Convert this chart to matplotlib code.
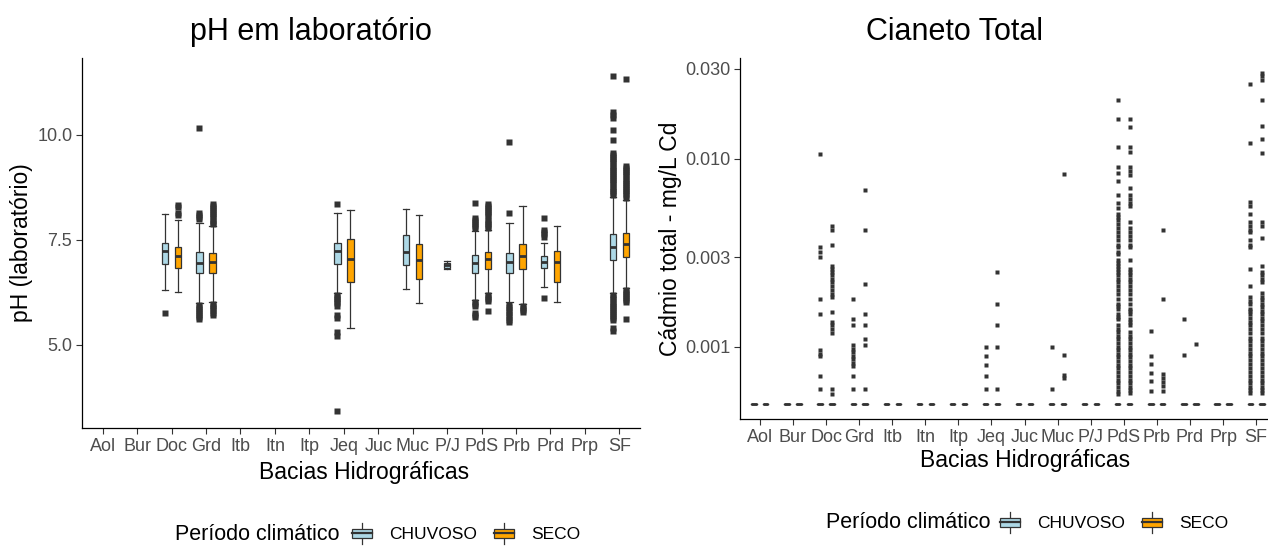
import matplotlib
matplotlib.use("Agg")
import matplotlib.pyplot as plt
from matplotlib.legend_handler import HandlerBase
from matplotlib.patches import Rectangle, Patch
from matplotlib.lines import Line2D

plt.rcParams['font.family'] = ['Liberation Sans', 'DejaVu Sans']

# ---- dados -------------------------------------------------------------
bacias = ["Aol", "Bur", "Doc", "Grd", "Itb", "Itn", "Itp", "Jeq", "Juc",
          "Muc", "P/J", "PdS", "Prb", "Prd", "Prp", "SF"]
periodos = ["CHUVOSO", "SECO"]
cores = {"CHUVOSO": "#ADD8E6", "SECO": "#FFA500"}

# pH: (bigode inf., Q1, mediana, Q3, bigode sup.)
ph_chuvoso = {
    "Doc": (6.31, 6.93, 7.24, 7.42, 8.12),
    "Grd": (6.00, 6.71, 6.96, 7.21, 7.90),
    "Jeq": (6.24, 6.93, 7.24, 7.42, 8.14),
    "Muc": (6.32, 6.90, 7.22, 7.61, 8.23),
    "P/J": (6.80, 6.83, 6.89, 6.96, 7.00),
    "PdS": (6.07, 6.71, 6.95, 7.14, 7.72),
    "Prb": (6.02, 6.72, 6.98, 7.19, 7.90),
    "Prd": (6.38, 6.83, 6.98, 7.12, 7.43),
    "SF":  (6.24, 7.02, 7.33, 7.64, 8.52),
}
ph_seco = {
    "Doc": (6.26, 6.84, 7.12, 7.34, 7.98),
    "Grd": (6.02, 6.71, 6.98, 7.19, 7.83),
    "Jeq": (5.40, 6.50, 7.05, 7.52, 8.21),
    "Muc": (6.00, 6.57, 7.03, 7.40, 8.08),
    "PdS": (6.24, 6.81, 7.05, 7.21, 7.74),
    "Prb": (5.98, 6.81, 7.12, 7.40, 8.31),
    "Prd": (6.02, 6.50, 6.98, 7.24, 7.83),
    "SF":  (6.36, 7.09, 7.40, 7.67, 8.45),
}
ph_chuvoso_out = {
    "Doc": [5.76],
    "Grd": [10.17, 8.14, 8.10, 8.05, 8.00, 5.96, 5.91, 5.86, 5.81, 5.76, 5.71, 5.66, 5.61],
    "Jeq": [8.36, 6.19, 6.14, 6.09, 6.04, 5.99, 5.93, 5.71, 5.65, 5.31, 5.20, 3.42],
    "PdS": [8.38, 8.03, 7.98, 7.93, 7.88, 7.83, 7.78, 6.02, 5.97, 5.92, 5.76, 5.70, 5.66],
    "Prb": [9.83, 8.14, 5.96, 5.90, 5.84, 5.78, 5.72, 5.66, 5.60, 5.55],
    "Prd": [8.02, 7.74, 7.69, 7.63, 7.57, 6.12],
    "SF":  [11.40, 10.55, 10.47, 10.40, 10.12, 9.88, 9.57, 9.52, 9.47, 9.42, 9.37,
            9.32, 9.27, 9.22, 9.17, 9.12, 9.07, 9.02, 8.97, 8.92, 8.87, 8.82, 8.77,
            8.72, 8.67, 8.62, 8.57, 6.18, 6.13, 6.08, 6.03, 5.98, 5.93, 5.88, 5.83,
            5.78, 5.73, 5.68, 5.63, 5.58, 5.40, 5.33],
}
ph_seco_out = {
    "Doc": [8.33, 8.28, 8.14, 8.09],
    "Grd": [8.36, 8.31, 8.26, 8.21, 8.16, 8.11, 8.06, 8.01, 7.96, 7.91, 7.87,
            5.97, 5.92, 5.87, 5.82, 5.76, 5.72],
    "PdS": [8.36, 8.31, 8.26, 8.21, 8.16, 8.11, 8.06, 7.98, 7.93, 7.88, 7.83, 7.78,
            6.19, 6.14, 6.09, 6.04, 5.81],
    "Prb": [5.93, 5.88, 5.83, 5.78],
    "SF":  [11.32, 9.26, 9.21, 9.16, 9.11, 9.06, 9.01, 8.96, 8.91, 8.86, 8.81, 8.76,
            8.71, 8.66, 8.61, 8.56, 8.50, 6.31, 6.26, 6.21, 6.16, 6.11, 6.06, 6.01, 5.62],
}

# Cadmio total: caixas colapsadas no limite de detecao, resto sao outliers
cd_limite = 0.0005
cd_chuvoso_out = {
    "Doc": [0.0106, 0.0034, 0.0032, 0.0030, 0.0018, 0.0015, 0.00096, 0.00092,
            0.00089, 0.00070, 0.00060],
    "Grd": [0.0018, 0.0014, 0.0013, 0.00102, 0.00098, 0.00094, 0.00090, 0.00086,
            0.00082, 0.00079, 0.00070, 0.00060],
    "Jeq": [0.0010, 0.00090, 0.00080, 0.00070, 0.00060],
    "Muc": [0.0010, 0.00060],
    "PdS": [0.0204, 0.0163, 0.0115, 0.0090, 0.0084, 0.0076, 0.0064, 0.0058, 0.0055,
            0.0051, 0.0049, 0.0047, 0.0045, 0.0043, 0.0041, 0.0039, 0.0037, 0.0035,
            0.0034, 0.0032, 0.0031, 0.0029, 0.0028, 0.0027, 0.0026, 0.0025, 0.0024,
            0.0023, 0.0022, 0.0021, 0.0020, 0.0019, 0.0018, 0.0017, 0.00165, 0.0016,
            0.0015, 0.00145, 0.0014, 0.0013, 0.00125, 0.0012, 0.00115, 0.0011,
            0.00105, 0.0010, 0.00096, 0.00092, 0.00088, 0.00084, 0.0008, 0.00077,
            0.00074, 0.0007, 0.00067, 0.00064, 0.00061, 0.00058, 0.00056],
    "Prb": [0.00121, 0.00089, 0.00081, 0.00073, 0.00066, 0.00058],
    "Prd": [0.0014, 0.00091],
    "SF":  [0.0251, 0.0121, 0.0059, 0.0056, 0.0051, 0.0046, 0.0044, 0.0042, 0.0041,
            0.0037, 0.0035, 0.0034, 0.0026, 0.0021, 0.00184, 0.00176, 0.0017, 0.0016,
            0.00155, 0.0015, 0.00142, 0.00135, 0.0013, 0.00124, 0.00118, 0.00112,
            0.00107, 0.00102, 0.00097, 0.00093, 0.00089, 0.00085, 0.00081, 0.00077,
            0.00074, 0.0007, 0.00067, 0.00064, 0.00061, 0.00059, 0.00057],
}
cd_seco_out = {
    "Doc": [0.0044, 0.0042, 0.0035, 0.0027, 0.0026, 0.0025, 0.0024, 0.0023, 0.0022,
            0.0021, 0.0020, 0.0019, 0.00185, 0.00153, 0.00136, 0.00130, 0.00124,
            0.00118, 0.00060, 0.00056],
    "Grd": [0.0068, 0.0042, 0.00215, 0.0015, 0.0013, 0.0011, 0.00102, 0.0006],
    "Jeq": [0.0025, 0.0017, 0.0013, 0.0010, 0.0006],
    "Muc": [0.0083, 0.00091, 0.00071, 0.00068],
    "PdS": [0.0163, 0.0147, 0.0115, 0.0109, 0.0090, 0.0086, 0.0082, 0.0070, 0.0064,
            0.0061, 0.0058, 0.0056, 0.0046, 0.0043, 0.0041, 0.0039, 0.0037, 0.0035,
            0.0034, 0.0029, 0.0026, 0.0025, 0.0024, 0.0023, 0.0022, 0.0021, 0.0020,
            0.0019, 0.0018, 0.0017, 0.0016, 0.00155, 0.0015, 0.0014, 0.00135, 0.0013,
            0.0012, 0.00115, 0.0011, 0.00105, 0.0010, 0.00096, 0.00092, 0.00088,
            0.00084, 0.0008, 0.00077, 0.00074, 0.0007, 0.00067, 0.00064, 0.00061,
            0.00059, 0.00057],
    "Prb": [0.0042, 0.0018, 0.00072, 0.00068, 0.00065, 0.00062, 0.00058],
    "Prd": [0.00104],
    "SF":  [0.0286, 0.0275, 0.0263, 0.0206, 0.0150, 0.0128, 0.0107, 0.0046, 0.0044,
            0.0038, 0.0027, 0.0025, 0.0024, 0.0023, 0.0022, 0.00193, 0.00185, 0.00178,
            0.0017, 0.00163, 0.00156, 0.0015, 0.00143, 0.00137, 0.0013, 0.00124,
            0.00118, 0.00112, 0.00107, 0.00102, 0.00097, 0.00093, 0.00089, 0.00085,
            0.00081, 0.00077, 0.00074, 0.0007, 0.00067, 0.00064, 0.00061, 0.00059,
            0.00057],
}

# ---- estilo ------------------------------------------------------------
cinza = "#333333"
tick_cor = "#4D4D4D"
W, H = 1268, 546

fig = plt.figure(figsize=(W / 100, H / 100), dpi=100)
ax1 = fig.add_axes([82 / W, (H - 428) / H, 558 / W, 370 / H])
ax2 = fig.add_axes([740 / W, (H - 419) / H, 536 / W, 361 / H])


def desenha(ax, stats_por_periodo, out_por_periodo, largura, desloc, msize):
    for p, sinal in zip(periodos, (-1, 1)):
        stats = stats_por_periodo[p]
        outs = out_por_periodo[p]
        for i, b in enumerate(bacias):
            if b not in stats:
                continue
            outro = [q for q in periodos if q != p][0]
            pos = i if b not in stats_por_periodo[outro] else i + sinal * desloc
            lo, q1, med, q3, hi = stats[b]
            d = dict(whislo=lo, q1=q1, med=med, q3=q3, whishi=hi,
                     fliers=outs.get(b, []))
            ax.bxp([d], positions=[pos], widths=largura, capwidths=largura,
                   patch_artist=True, manage_ticks=False,
                   boxprops=dict(facecolor=cores[p], edgecolor=cinza, lw=0.9),
                   medianprops=dict(color=cinza, lw=2.0),
                   whiskerprops=dict(color=cinza, lw=0.9),
                   capprops=dict(color=cinza, lw=0.9),
                   flierprops=dict(marker='s', markersize=msize, markerfacecolor=cinza,
                                   markeredgecolor='none', linestyle='none'))


desenha(ax1, {"CHUVOSO": ph_chuvoso, "SECO": ph_seco},
        {"CHUVOSO": ph_chuvoso_out, "SECO": ph_seco_out}, 0.19, 0.19, 3.8)

cd_stats = {b: (cd_limite,) * 5 for b in bacias}
desenha(ax2, {"CHUVOSO": cd_stats, "SECO": cd_stats},
        {"CHUVOSO": cd_chuvoso_out, "SECO": cd_seco_out}, 0.16, 0.18, 3.5)

# ---- eixos -------------------------------------------------------------
for ax in (ax1, ax2):
    ax.set_xlim(-0.6, len(bacias) - 0.4)
    ax.set_xticks(range(len(bacias)))
    ax.set_xticklabels(bacias)
    for s in ("top", "right"):
        ax.spines[s].set_visible(False)
    for s in ("left", "bottom"):
        ax.spines[s].set_color("black")
        ax.spines[s].set_linewidth(0.9)
    ax.tick_params(direction="out", length=4, width=0.8, color=cinza,
                   labelcolor=tick_cor, labelsize=13, pad=3)
    ax.minorticks_off()

ax1.set_ylim(3.02, 11.83)
ax1.set_yticks([5.0, 7.5, 10.0])
ax1.set_yticklabels(["5.0", "7.5", "10.0"])

ax2.set_yscale("log")
ax2.set_ylim(4.14e-4, 0.0343)
ax2.set_yticks([0.001, 0.003, 0.010, 0.030])
ax2.set_yticklabels(["0.001", "0.003", "0.010", "0.030"])
ax2.minorticks_off()

ax1.set_ylabel("pH (laboratório)", fontsize=16.5)
ax2.set_ylabel("Cádmio total - mg/L Cd", fontsize=16.5)
ax1.yaxis.set_label_coords((33 - 82) / 558, 0.5)
ax2.yaxis.set_label_coords((682 - 740) / 536, 0.5)

ax1.set_xlabel("Bacias Hidrográficas", fontsize=16.5)
ax2.set_xlabel("Bacias Hidrográficas", fontsize=16.5)
ax1.xaxis.set_label_coords((364 - 82) / 558, (428 - 461) / 370)
ax2.xaxis.set_label_coords((1025 - 740) / 536, (419 - 449) / 361)

fig.text(311 / W, 1 - 32 / H, "pH em laboratório", ha="center", va="center", fontsize=22)
fig.text(955 / W, 1 - 32 / H, "Cianeto Total", ha="center", va="center", fontsize=22)


# ---- legenda -----------------------------------------------------------
class ChaveBox(HandlerBase):
    def create_artists(self, legend, orig_handle, xdescent, ydescent,
                       width, height, fontsize, trans):
        x0, y0 = -xdescent, -ydescent
        cx = x0 + width / 2
        haste = Line2D([cx, cx], [y0 - height * 0.15, y0 + height * 1.15],
                       color=cinza, lw=0.9, transform=trans)
        caixa = Rectangle((x0, y0 + height * 0.22), width, height * 0.56,
                          facecolor=orig_handle.get_facecolor(), edgecolor=cinza,
                          lw=0.9, transform=trans)
        mediana = Line2D([x0, x0 + width], [y0 + height / 2] * 2, color=cinza,
                         lw=1.6, transform=trans)
        return [haste, caixa, mediana]


handles = [Patch(facecolor=cores[p]) for p in periodos]
for tx, kx, ly in ((175, 352, 534), (826, 1000, 523)):
    fig.text(tx / W, 1 - ly / H, "Período climático", ha="left", va="center",
             fontsize=15.5)
    fig.legend(handles, periodos, handler_map={Patch: ChaveBox()}, ncol=2,
               loc="center left", bbox_to_anchor=(kx / W, 1 - ly / H),
               frameon=False, fontsize=12.5, handlelength=1.15, handleheight=1.0,
               handletextpad=1.0, columnspacing=0.95, borderpad=0, borderaxespad=0)

fig.savefig("out.png", dpi=100)
